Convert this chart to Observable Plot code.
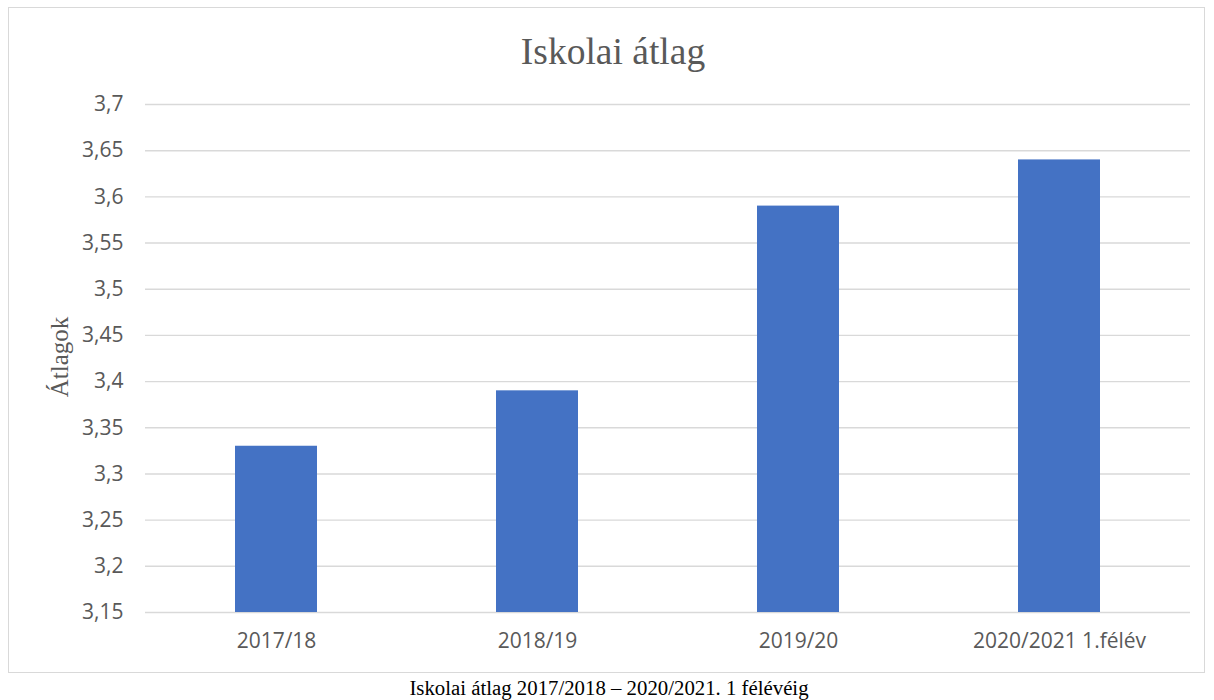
<!DOCTYPE html>
<html>
<head>
<meta charset="utf-8">
<script src="https://cdn.jsdelivr.net/npm/d3@7"></script>
<script src="https://cdn.jsdelivr.net/npm/@observablehq/plot@0.6"></script>
<style>
  html, body { margin: 0; padding: 0; background: #fff; }
  #wrap { position: relative; width: 1214px; height: 700px; }
  #frame { position: absolute; left: 8px; top: 7px; width: 1197px; height: 666px; border: 1.5px solid #d9d9d9; box-sizing: border-box; }
  #title { position: absolute; left: 12px; width: 1202px; top: 28px; text-align: center; font-family: "Liberation Serif", "Times New Roman", serif; font-size: 37.5px; color: #595959; line-height: 48px; }
  #ylabel { position: absolute; left: 60px; top: 357px; transform: translate(-50%, -50%) rotate(-90deg); font-family: "Liberation Serif", serif; font-size: 25px; color: #595959; white-space: nowrap; }
  #caption { position: absolute; left: 0; width: 1218px; top: 676px; text-align: center; font-family: "Liberation Serif", serif; font-size: 20.8px; color: #000; line-height: 24px; }
  #chart { position: absolute; left: 0; top: 0; }
</style>
</head>
<body>
<div id="wrap">
  <div id="frame"></div>
  <div id="chart"></div>
  <div id="title">Iskolai átlag</div>
  <div id="ylabel">Átlagok</div>
  <div id="caption">Iskolai átlag 2017/2018 – 2020/2021. 1 félévéig</div>
</div>
<script>
const categories = ["2017/18", "2018/19", "2019/20", "2020/2021 1.félév"];
const values = [3.33, 3.39, 3.59, 3.64];
const yTicks = [3.15, 3.2, 3.25, 3.3, 3.35, 3.4, 3.45, 3.5, 3.55, 3.6, 3.65, 3.7];
const yMin = 3.15, yMax = 3.7;

const data = categories.map((c, i) => ({category: c, value: values[i]}));
const fmt = d => d.toFixed(2).replace(/0$/, "").replace(".", ",");

const plot = Plot.plot({
  width: 1214,
  height: 674,
  marginLeft: 145,
  marginRight: 24,
  marginTop: 104,
  marginBottom: 62,
  style: { fontFamily: "'Open Sans', sans-serif", fontSize: "21px", color: "#595959", background: "transparent" },
  x: { domain: categories, paddingInner: 0.686, paddingOuter: 0.343, label: null },
  y: { domain: [yMin, yMax], label: null },
  marks: [
    Plot.ruleY(yTicks, { stroke: "#d9d9d9", strokeWidth: 1.4 }),
    Plot.barY(data, { x: "category", y1: () => yMin, y2: "value", fill: "#4472C4" }),
    Plot.axisY({ ticks: yTicks, tickFormat: fmt, tickSize: 0, tickPadding: 22, fill: "#595959", fontSize: 21, label: null }),
    Plot.axisX({ tickSize: 0, tickPadding: 21, fill: "#595959", fontSize: 21, label: null })
  ]
});
document.getElementById("chart").appendChild(plot);
</script>
</body>
</html>
